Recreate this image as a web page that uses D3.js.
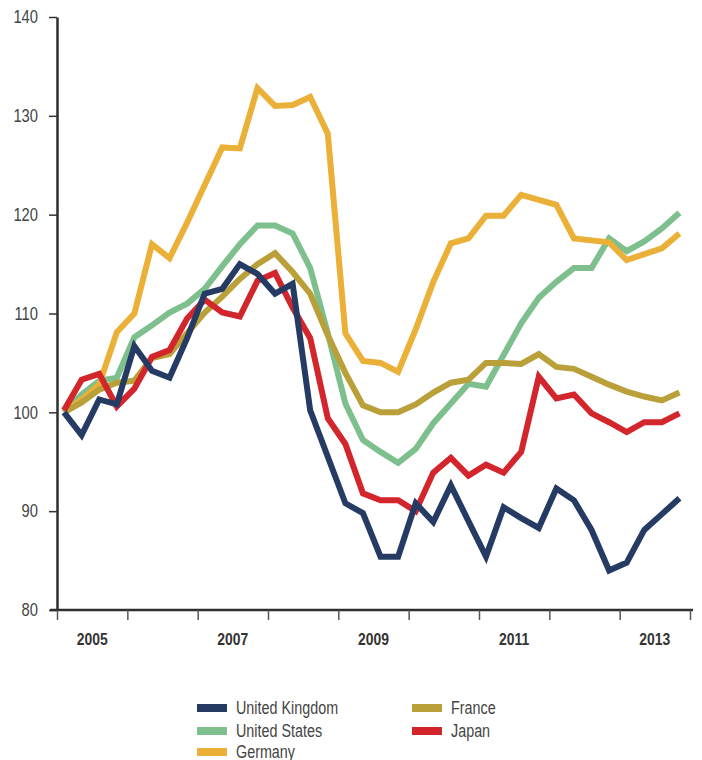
<!DOCTYPE html>
<html>
<head>
<meta charset="utf-8">
<script src="https://cdnjs.cloudflare.com/ajax/libs/d3/7.8.5/d3.min.js"></script>
<style>
  body { margin: 0; background: #fff; }
  svg { display: block; }
  text { font-family: "Liberation Sans", Arial, sans-serif; }
</style>
</head>
<body>
<div id="chart"></div>
<script>

// quarterly observations, 2005 Q1 .. 2013 Q4
var quarters = d3.range(36).map(function (i) { return (2005 + Math.floor(i / 4)) + "Q" + (i % 4 + 1); });

var unitedKingdom = [100, 97.7, 101.3, 100.8, 106.7, 104.2, 103.5, 107.5, 112, 112.5, 115, 114,
                     112, 113, 100.2, 95.5, 90.8, 89.8, 85.4, 85.4, 90.8, 88.9, 92.6, 89,
                     85.4, 90.4, 89.3, 88.3, 92.3, 91.1, 88.1, 84, 84.8, 88.1, 89.7, 91.3];
var unitedStates = [100, 101.8, 103.2, 103.5, 107.6, 108.8, 110.1, 111, 112.5, 114.8, 117, 118.9,
                    118.9, 118.1, 114.6, 108, 100.9, 97.2, 96, 94.9, 96.3, 98.9, 100.9, 102.9,
                    102.6, 105.8, 109, 111.6, 113.2, 114.6, 114.6, 117.6, 116.3, 117.3, 118.6, 120.2];
var germany = [100, 101.3, 102.8, 108.1, 110, 117, 115.6, 119.2, 123, 126.8, 126.7, 132.8,
               131, 131.1, 131.9, 128.2, 108, 105.2, 105, 104.1, 108.4, 113.2, 117.1, 117.6,
               119.9, 119.9, 122, 121.5, 121, 117.6, 117.4, 117.2, 115.4, 116, 116.6, 118.1];
var france = [100, 101, 102.3, 103, 103.2, 105.5, 105.9, 108, 110.1, 111.7, 113.5, 115,
              116.1, 114.2, 112, 107.8, 104, 100.7, 100, 100, 100.8, 102, 103, 103.3,
              105, 105, 104.9, 105.9, 104.6, 104.4, 103.6, 102.8, 102.1, 101.6, 101.2, 102];
var japan = [100.2, 103.3, 103.9, 100.6, 102.4, 105.6, 106.3, 109.5, 111.4, 110.1, 109.7, 113.3,
             114.1, 110.6, 107.5, 99.4, 96.8, 91.8, 91.1, 91.1, 90, 93.9, 95.4, 93.6,
             94.7, 93.9, 96, 103.6, 101.4, 101.8, 99.9, 99, 98, 99, 99, 99.9];

var seriesNames = ["United Kingdom", "United States", "Germany", "France", "Japan"];
var seriesColors = ["#253b63", "#7dbf8d", "#eab038", "#b9a038", "#d2262c"];
var yTicks = [80, 90, 100, 110, 120, 130, 140];
var yearLabels = [2005, 2007, 2009, 2011, 2013];

var series = [unitedKingdom, unitedStates, germany, france, japan];

var width = 702, height = 760,
    narrow = 0.82;   // horizontal squeeze to mimic a condensed face

var svg = d3.select("#chart").append("svg")
    .attr("width", width)
    .attr("height", height);

var x = d3.scaleLinear().domain([2005, 2014]).range([57, 690]),
    y = d3.scaleLinear().domain([80, 140]).range([610, 17]);

function qTime (q) {
  // plot each quarter slightly inside its span
  var yr = +q.slice(0, 4), n = +q.slice(5);
  return yr + (n - 1) / 4 + 0.1;
}

// x axis: year boundary ticks, labels in the middle of odd years
var xAxis = d3.axisBottom(x)
    .tickValues(d3.range(2005, 2015))
    .tickSize(10)
    .tickSizeOuter(0)
    .tickFormat("");

var gx = svg.append("g")
    .attr("class", "x axis")
    .attr("transform", "translate(0," + y(80) + ")")
    .call(xAxis);
gx.select(".domain").attr("stroke", "#2e2e2e").attr("stroke-width", 2.5)
    .attr("d", "M50,0H693");
gx.selectAll(".tick line").attr("stroke", "#555").attr("stroke-width", 1.5);

gx.selectAll(".year-label")
    .data(yearLabels)
  .enter().append("text")
    .attr("class", "year-label")
    .attr("transform", "scale(" + narrow + ",1)")
    .attr("x", function (d) { return x(d + 0.5) / narrow; })
    .attr("y", 35)
    .attr("text-anchor", "middle")
    .attr("fill", "#333")
    .style("font-size", "17px")
    .style("font-weight", "bold")
    .text(function (d) { return d; });

// y axis
var yAxis = d3.axisLeft(y)
    .tickValues(yTicks)
    .tickSize(8)
    .tickSizeOuter(0);

var gy = svg.append("g")
    .attr("class", "y axis")
    .attr("transform", "translate(" + x(2005) + ",0)")
    .call(yAxis);
gy.select(".domain").attr("stroke", "#2e2e2e").attr("stroke-width", 2.5);
gy.selectAll(".tick line").attr("stroke", "#333").attr("stroke-width", 1.5);
gy.selectAll(".tick text")
    .attr("x", -19 / narrow)
    .attr("transform", "scale(" + narrow + ",1)")
    .attr("fill", "#444")
    .style("font-family", "'Liberation Sans', Arial, sans-serif")
    .style("font-size", "18px");

// lines, drawn bottom to top
var line = d3.line()
    .x(function (d, i) { return x(qTime(quarters[i])); })
    .y(function (d) { return y(d); });

var drawOrder = [1, 2, 3, 4, 0];

svg.append("g").attr("class", "lines")
  .selectAll("path")
    .data(drawOrder)
  .enter().append("path")
    .attr("fill", "none")
    .attr("stroke", function (k) { return seriesColors[k]; })
    .attr("stroke-width", 6)
    .attr("stroke-linejoin", "miter")
    .attr("stroke-miterlimit", 10)
    .attr("d", function (k) { return line(series[k]); });

// legend
var legendPos = [[197, 708], [197, 731], [197, 752], [412, 708], [412, 731]];

var legend = svg.append("g").attr("class", "legend")
  .selectAll("g")
    .data(seriesNames)
  .enter().append("g")
    .attr("transform", function (d, i) { return "translate(" + legendPos[i][0] + "," + legendPos[i][1] + ")"; });

legend.append("rect")
    .attr("x", 0)
    .attr("y", -4)
    .attr("width", 30)
    .attr("height", 8)
    .attr("fill", function (d, i) { return seriesColors[i]; });

legend.append("text")
    .attr("transform", "scale(" + narrow + ",1)")
    .attr("x", 39 / narrow)
    .attr("dy", "0.35em")
    .attr("fill", "#444")
    .style("font-size", "17.5px")
    .text(function (d) { return d; });

</script>
</body>
</html>
